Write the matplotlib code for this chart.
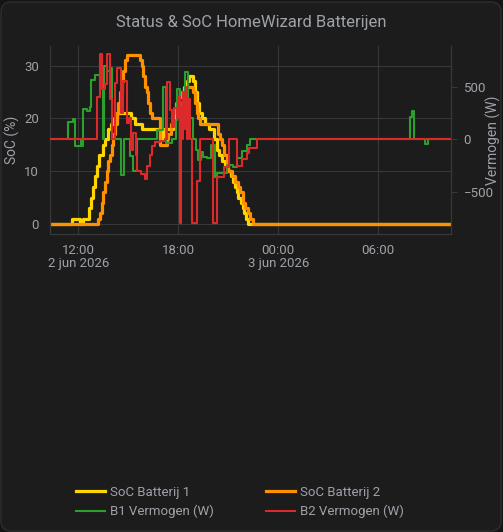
import matplotlib
matplotlib.use("Agg")
import matplotlib.pyplot as plt
from matplotlib.patches import FancyBboxPatch

plt.rcParams['font.family'] = ['Roboto', 'DejaVu Sans']

# tijd in uren sinds 2 jun 2026 00:00
soc1_t = [10.30, 11.62, 12.10, 12.28, 12.64, 12.76, 12.88, 13.00, 13.12, 13.24, 13.48, 13.60,
          13.78, 13.96, 14.14, 14.32, 15.16, 15.40, 15.82, 16.90, 17.10, 17.70, 17.80, 17.92,
          18.04, 18.20, 18.34, 18.50, 18.64, 18.90, 19.00, 19.12, 19.24, 19.40, 19.60, 19.85,
          20.15, 20.30, 20.45, 20.60, 20.80, 21.00, 21.15, 21.30, 21.40, 21.50, 21.60, 21.75,
          21.85, 21.95, 22.05, 22.15, 34.36]
soc1 = [0, 1, 0, 1, 3, 5, 7, 9, 11, 13, 15, 16,
        18, 19, 20, 21, 20, 19, 18, 16, 18, 20, 22, 23,
        24, 25, 26, 27, 28, 27, 25, 23, 21, 20, 19, 18,
        16, 14, 13, 12, 11, 10, 9, 8, 7, 6, 5, 4,
        3, 2, 1, 0, 0]

soc2_t = [10.30, 13.20, 13.30, 13.40, 13.50, 13.60, 13.70, 13.80, 13.90, 14.00, 14.10, 14.20,
          14.30, 14.40, 14.50, 14.60, 14.70, 14.80, 14.90, 15.70, 15.80, 15.90, 16.00, 16.10,
          16.20, 16.30, 16.42, 16.90, 17.30, 17.40, 17.55, 17.70, 17.85, 18.00, 18.20, 18.40,
          18.90, 19.00, 19.10, 19.20, 19.30, 20.40, 20.50, 20.60, 20.75, 20.90, 21.00, 21.20,
          21.40, 21.55, 21.70, 21.85, 22.00, 22.15, 22.30, 22.45, 34.36]
soc2 = [0, 1, 2, 4, 6, 8, 10, 12, 13, 15, 17, 19,
        21, 23, 25, 27, 29, 31, 32, 31, 30, 28, 26, 25,
        23, 21, 20, 15, 16, 17, 19, 21, 23, 24, 25, 26,
        25, 23, 21, 20, 19, 17, 16, 15, 13, 11, 10, 9,
        8, 7, 6, 4, 3, 2, 1, 0, 0]

b1_t = [10.30, 11.38, 11.66, 11.78, 12.15, 12.22, 12.30, 12.55, 12.70, 12.78, 13.00, 13.30,
        13.48, 13.55, 13.70, 13.95, 14.05, 14.55, 14.75, 15.12, 15.30, 15.55, 16.72, 17.08,
        17.28, 17.60, 17.85, 17.95, 18.10, 18.25, 18.40, 18.58, 18.70, 18.88, 19.08, 19.20,
        19.35, 19.50, 19.70, 19.96, 20.20, 20.35, 20.90, 21.30, 21.50, 21.80, 22.10, 22.30,
        31.90, 32.00, 32.12, 32.80, 32.98, 34.36]
b1 = [0, 165, 190, -60, 0, -60, 290, 270, 310, 560, 610, 520,
      0, 700, 650, 680, 0, -340, 0, -160, -300, 0, 90, 500,
      -35, 0, 180, 480, 200, 350, 640, 300, 200, 0, -100, -200,
      -120, -170, -180, -50, -360, -320, -240, -260, -180, -110, -55, 0,
      210, 270, 0, -45, 0, 0]

b2_t = [10.30, 13.12, 13.30, 13.45, 13.62, 13.75, 13.90, 14.05, 14.20, 14.35, 14.55, 14.68,
        14.92, 15.05, 15.15, 15.30, 15.45, 15.55, 15.75, 16.00, 16.12, 16.30, 16.45, 16.60,
        16.90, 17.20, 17.30, 17.50, 17.62, 17.75, 17.90, 18.00, 18.08, 18.12, 18.15, 18.25,
        18.30, 18.38, 18.45, 18.52, 18.58, 18.70, 18.85, 19.10, 19.30, 20.10, 20.30, 20.75,
        21.05, 21.50, 21.85, 22.10, 22.25, 22.70, 34.36]
b2 = [0, 400, 810, 480, 520, 810, 380, 0, 530, 680, 250, 550,
      150, 200, -100, 60, -150, -300, -330, -380, -250, -150, -60, -30,
      -20, 0, 540, 280, 120, 300, 200, 400, 0, -790, 300, 0,
      450, 100, 500, 0, 380, 0, -790, -400, 0, -790, -360, -260,
      0, -250, -190, -130, -80, 0, 0]

x_ticks = [12, 18, 24, 30]
x_labels = ["12:00\n2 jun 2026", "18:00", "00:00\n3 jun 2026", "06:00"]

bg = '#1c1c1c'
grid_c = '#383838'
txt = '#9ea2a8'

fig = plt.figure(figsize=(5.03, 5.32), dpi=100)
fig.patch.set_facecolor('#141414')
card = FancyBboxPatch((1, 1), 500, 529, boxstyle="round,pad=0,rounding_size=10",
                      transform=None, facecolor=bg, edgecolor='#2e2e2e', lw=1, zorder=-10)
fig.patches.append(card)

ax = fig.add_axes([50 / 503, 1 - 234 / 532, 401 / 503, 188 / 532])
ax.set_facecolor('none')
ax2 = ax.twinx()

l1, = ax.step(soc1_t, soc1, where='post', color='#ffd500', lw=2.3, label='SoC Batterij 1')
l2, = ax.step(soc2_t, soc2, where='post', color='#ff9100', lw=2.3, label='SoC Batterij 2')
l3, = ax2.step(b1_t, b1, where='post', color='#2ca02c', lw=1.5, label='B1 Vermogen (W)')
l4, = ax2.step(b2_t, b2, where='post', color='#dc2a2a', lw=1.5, label='B2 Vermogen (W)')

ax.set_xlim(10.30, 34.36)
ax.set_ylim(-1.9, 33.7)
ax2.set_ylim(-898, 885)
ax.set_yticks([0, 10, 20, 30])
ax2.set_yticks([-500, 0, 500])
ax.set_xticks(x_ticks)
ax.set_xticklabels(x_labels)
for lab in ax.get_xticklabels():
    lab.set_linespacing(1.05)

ax.grid(True, color=grid_c, lw=0.75)
for a in (ax, ax2):
    for s in a.spines.values():
        s.set_visible(False)
ax.spines['left'].set_visible(True)
ax.spines['bottom'].set_visible(True)
ax2.spines['right'].set_visible(True)
for s in (ax.spines['left'], ax.spines['bottom'], ax2.spines['right']):
    s.set_color(grid_c)
    s.set_linewidth(0.9)

ax.tick_params(axis='both', length=0, colors=txt, labelsize=9.5)
ax.tick_params(axis='x', pad=7)
ax.tick_params(axis='y', pad=8)
ax2.tick_params(axis='y', length=4, color=grid_c, colors=txt, labelsize=9.5, pad=5)
for lab in ax2.get_yticklabels():
    lab.set_color(txt)

ax.set_ylabel('SoC (%)', color=txt, fontsize=10, labelpad=3)
ax2.set_ylabel('Vermogen (W)', color=txt, fontsize=10, labelpad=-6)

fig.text(0.5, 1 - 23 / 532, 'Status & SoC HomeWizard Batterijen', ha='center', va='center',
         color=txt, fontsize=12)

fig.legend(handles=[l1, l3, l2, l4], loc='center', ncol=2,
           bbox_to_anchor=(240 / 503, 1 - 502 / 532), frameon=False,
           fontsize=9.5, labelcolor=txt, handlelength=2.2, handletextpad=0.4,
           columnspacing=3.9, labelspacing=0.45, borderpad=0)

fig.savefig('out.png', dpi=100, facecolor=fig.get_facecolor())
